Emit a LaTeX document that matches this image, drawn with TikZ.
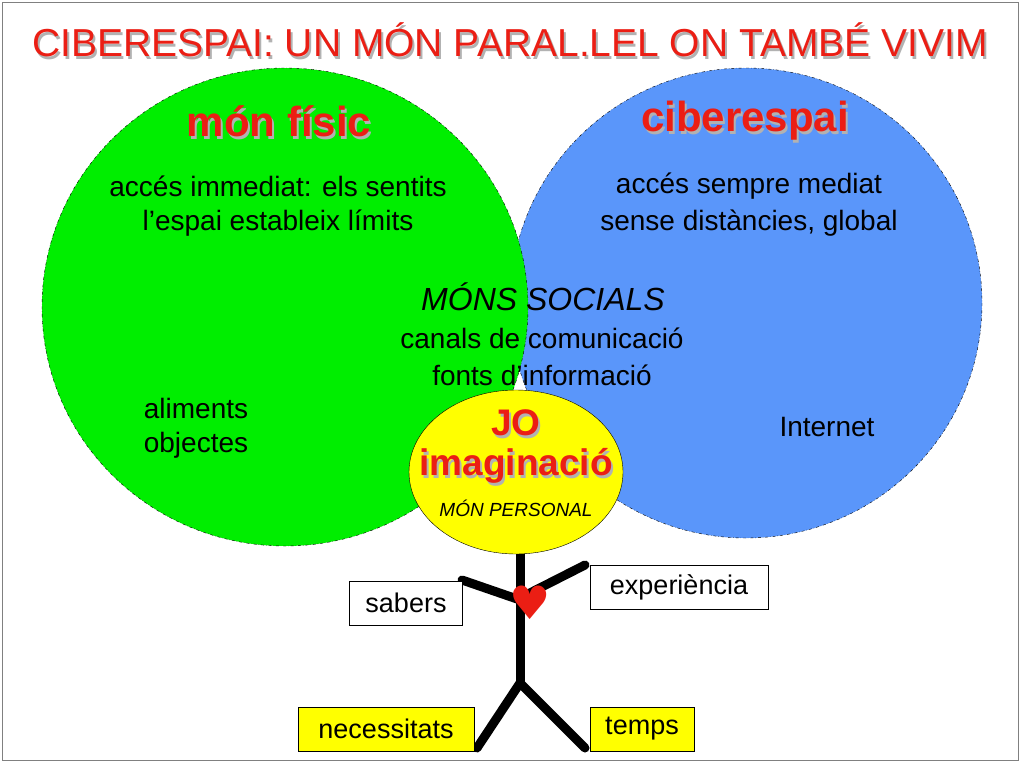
\documentclass[tikz,border=0pt]{standalone}
\usepackage{fontspec}
\setmainfont{Liberation Sans}
\newfontfamily\dejavu{DejaVu Sans}
\definecolor{tred}{RGB}{235,30,20}
\definecolor{gfill}{RGB}{0,238,0}
\definecolor{bfill}{RGB}{90,150,250}
\definecolor{yfill}{RGB}{255,255,0}
\begin{document}
\begin{tikzpicture}[x=1pt,y=-1pt,
  txt/.style={font=\fontsize{28}{28}\selectfont},
  big/.style={font=\fontsize{42}{42}\selectfont\bfseries,text=tred},
  lbl/.style={draw,thick,font=\fontsize{27}{27}\selectfont,minimum height=44pt,inner xsep=4pt},
  limb/.style={line width=9pt,line cap=round}]
\useasboundingbox (0,0) rectangle (1024,768);
\fill[white] (0,0) rectangle (1024,768);
\draw[gray,thin] (2,2) rectangle (1018,760);
\node[font=\fontsize{39}{39}\selectfont,text=gray!60] at (512,43) {CIBERESPAI: UN MÓN PARAL.LEL ON TAMBÉ VIVIM};
\node[font=\fontsize{39}{39}\selectfont,text=tred] (title) at (510,40) {CIBERESPAI: UN MÓN PARAL.LEL ON TAMBÉ VIVIM};
\draw[fill=bfill,dash dot] (746,303) ellipse [x radius=236,y radius=235];
\draw[fill=gfill,dash dot] (285,307) ellipse [x radius=243,y radius=239];
\node[big,text=gray!60] at (281,124) {món físic};
\node[big] (mf) at (279,121) {món físic};
\node[big,text=gray!60] at (747,124) {ciberespai};
\node[big] (ce) at (745,121) {ciberespai};
\node[txt] (a1) at (278,186) {accés immediat: els sentits};
\node[txt] (a2) at (278,223) {l’espai estableix límits};
\node[txt] (b1) at (749,186) {accés sempre mediat};
\node[txt] (b2) at (749,223) {sense distàncies, global};
\node[font=\fontsize{32}{32}\selectfont\itshape] (ms) at (543,297) {MÓNS SOCIALS};
\node[txt] (c1) at (542,338) {canals de comunicació};
\node[txt] (c2) at (542,375) {fonts d’informació};
\node[txt] (al) at (196,408) {aliments};
\node[txt] (ob) at (196,445) {objectes};
\node[txt] (in) at (827,427) {Internet};
% stick figure
\coordinate (neck) at (520,550);
\coordinate (hip) at (520,683);
\coordinate (sh) at (520,600);
\draw[limb] (neck) -- (hip);
\draw[limb] (sh) -- (462,580);
\draw[limb] (520,598) -- (585,565);
\draw[limb] (hip) -- (477,748);
\draw[limb] (hip) -- (585,748);
\node[text=tred,font=\dejavu\fontsize{46}{46}\selectfont] (heart) at (530,603) {♥};
\draw[fill=yfill] (516,472) ellipse [x radius=107,y radius=82];
\node[font=\fontsize{37}{37}\selectfont\bfseries,text=gray!60] at (518,426) {JO};
\node[font=\fontsize{37}{37}\selectfont\bfseries,text=tred] (jo) at (516,423) {JO};
\node[font=\fontsize{37}{37}\selectfont\bfseries,text=gray!60] at (518,469) {imaginació};
\node[font=\fontsize{37}{37}\selectfont\bfseries,text=tred] (im) at (516,466) {imaginació};
\node[font=\fontsize{19}{19}\selectfont\itshape] (mp) at (516,508) {MÓN PERSONAL};
\node[lbl,fill=white,minimum width=113pt] (sab) at (406,603) {sabers};
\node[lbl,fill=white,minimum width=178pt] (exp) at (679,587) {experiència};
\node[lbl,fill=yfill,minimum width=176pt] (nec) at (386,729) {necessitats};
\node[lbl,fill=yfill,minimum width=104pt] (tem) at (642,729) {temps};
\end{tikzpicture}
\end{document}
